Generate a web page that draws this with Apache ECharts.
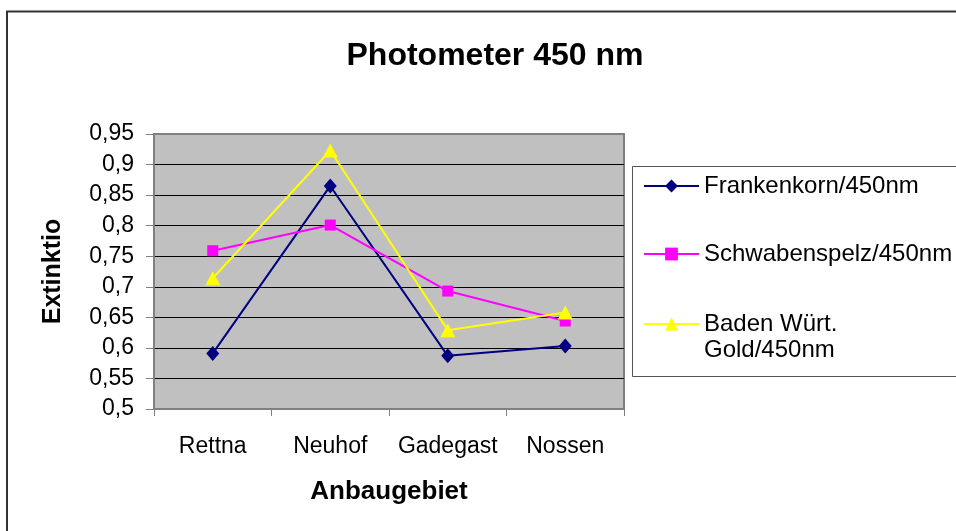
<!DOCTYPE html>
<html>
<head>
<meta charset="utf-8">
<script src="https://cdn.jsdelivr.net/npm/echarts@6/dist/echarts.min.js"></script>
<style>
  html, body { margin: 0; padding: 0; background: #fff; }
  #chart { width: 956px; height: 531px; }
</style>
</head>
<body>
<div id="chart"></div>
<script>
// Anbaugebiete und Messwerte (Extinktion bei 450 nm)
var regions = ['Rettna', 'Neuhof', 'Gadegast', 'Nossen']
var frankenkorn = [0.591, 0.865, 0.587, 0.603]
var schwabenspelz = [0.759, 0.801, 0.693, 0.644]
var badenGold = [0.714, 0.923, 0.629, 0.658]
var names = ['Frankenkorn/450nm', 'Schwabenspelz/450nm', 'Baden Würt. Gold/450nm']

var font = 'Liberation Sans, Arial, sans-serif'
var myChart = echarts.init(document.getElementById('chart'))

function legendAt (name, top, extra) {
  return Object.assign({
    data: [name],
    orient: 'vertical',
    left: 643,
    top: top,
    padding: 0,
    itemWidth: 55,
    itemHeight: 16,
    itemGap: 7,
    selectedMode: false,
    textStyle: { fontFamily: font, fontSize: 24, color: '#000', lineHeight: 26 }
  }, extra || {})
}

myChart.setOption({
  animation: false,
  backgroundColor: '#fff',
  title: {
    text: 'Photometer 450 nm',
    left: 490,
    textAlign: 'center',
    top: 35,
    textStyle: { fontFamily: font, fontSize: 32, fontWeight: 'bold', color: '#000' }
  },
  graphic: [
    {
      type: 'rect',
      shape: { x: 7, y: 11.5, width: 1000, height: 600 },
      style: { fill: 'none', stroke: '#333', lineWidth: 2 },
      z: -1
    },
    {
      type: 'rect',
      shape: { x: 632.5, y: 166.5, width: 400, height: 210 },
      style: { fill: '#fff', stroke: '#555', lineWidth: 1 },
      z: -1
    }
  ],
  legend: [
    legendAt(names[0], 173),
    legendAt(names[1], 241),
    // Leerzeile davor, damit das Symbol auf Höhe der ersten Textzeile sitzt
    legendAt(names[2], 285, {
      formatter: function () { return ' \nBaden Würt.\nGold/450nm' }
    })
  ],
  grid: {
    left: 154,
    top: 134,
    right: 332,
    bottom: 122,
    show: true,
    backgroundColor: '#c0c0c0',
    borderColor: '#808080',
    borderWidth: 2
  },
  xAxis: {
    type: 'category',
    data: regions,
    boundaryGap: true,
    name: 'Anbaugebiet',
    nameLocation: 'middle',
    nameGap: 70,
    nameTextStyle: { fontFamily: font, fontSize: 26, fontWeight: 'bold', color: '#000' },
    axisLine: { lineStyle: { color: '#808080', width: 2 } },
    axisTick: { show: true, interval: 0, length: 7, lineStyle: { color: '#808080', width: 1 } },
    axisLabel: { interval: 0, fontFamily: font, fontSize: 23, color: '#000', margin: 26 }
  },
  yAxis: {
    type: 'value',
    min: 0.5,
    max: 0.95,
    interval: 0.05,
    name: 'Extinktio',
    nameLocation: 'middle',
    nameRotate: 90,
    nameGap: 88,
    nameTextStyle: { fontFamily: font, fontSize: 25, fontWeight: 'bold', color: '#000' },
    axisLine: { show: true, lineStyle: { color: '#808080', width: 2 } },
    axisTick: { show: true, length: 8, lineStyle: { color: '#808080', width: 1 } },
    splitLine: { show: true, showMinLine: false, showMaxLine: false, lineStyle: { color: '#000', width: 1 } },
    axisLabel: {
      fontFamily: font,
      fontSize: 23,
      color: '#000',
      margin: 20,
      formatter: function (v) { return String(parseFloat(v.toFixed(2))).replace('.', ',') }
    }
  },
  series: [
    {
      name: names[0],
      type: 'line',
      data: frankenkorn,
      symbol: 'diamond',
      symbolSize: [13, 15],
      lineStyle: { color: '#000080', width: 2 },
      itemStyle: { color: '#000080' }
    },
    {
      name: names[1],
      type: 'line',
      data: schwabenspelz,
      symbol: 'rect',
      symbolSize: 11,
      lineStyle: { color: '#ff00ff', width: 2 },
      itemStyle: { color: '#ff00ff' }
    },
    {
      name: names[2],
      type: 'line',
      data: badenGold,
      symbol: 'triangle',
      symbolSize: [15, 14],
      lineStyle: { color: '#ffff00', width: 2 },
      itemStyle: { color: '#ffff00' }
    }
  ]
})
</script>
</body>
</html>
